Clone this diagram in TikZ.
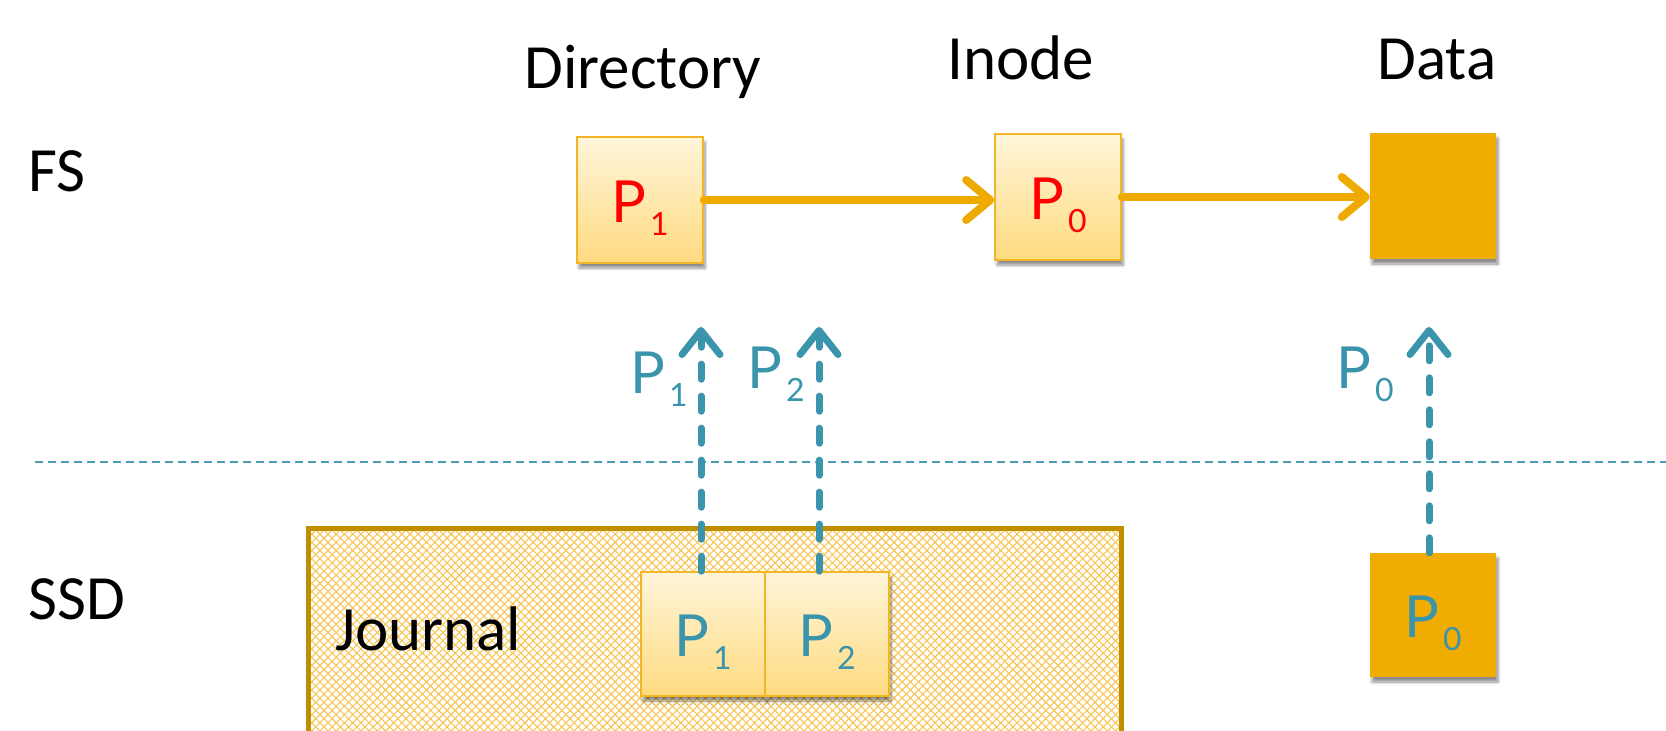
\documentclass[tikz,border=0pt]{standalone}
\usepackage{fontspec}
\setmainfont{Carlito}
\newfontfamily\pfont{Lato}
\usetikzlibrary{arrows.meta,shadows.blur,patterns.meta}

\definecolor{gold}{HTML}{F0AC00}
\definecolor{goldline}{HTML}{EFAA00}
\definecolor{boxedge}{HTML}{F2B526}
\definecolor{boxtop}{HTML}{FFF5DA}
\definecolor{boxbot}{HTML}{FFDB80}
\definecolor{framecol}{HTML}{BF8F00}
\definecolor{hatchcol}{HTML}{F7C554}
\definecolor{tealc}{HTML}{3A94AB}
\definecolor{teallight}{HTML}{4A9DB5}
\definecolor{pred}{HTML}{FF0000}

% P with a lowered index
\newcommand\pg[1]{P\kern4pt\raisebox{-13pt}{\fontsize{32}{32}\selectfont #1}}

\begin{document}
\begin{tikzpicture}[x=1pt,y=-1pt,
  lbl/.style={inner sep=0pt,anchor=base west,font=\fontsize{63}{70}\selectfont},
  head/.style={inner sep=0pt,anchor=base,font=\fontsize{63}{70}\selectfont},
  ptext/.style={inner sep=0pt,font=\pfont\fontsize{58}{60}\selectfont},
  boxshadow/.style={blur shadow={shadow xshift=2pt,shadow yshift=-5pt,
      shadow blur radius=3pt,shadow blur steps=6,shadow opacity=45}},
  pagebox/.style={draw=boxedge,line width=1.6pt,top color=boxtop,bottom color=boxbot,
      minimum width=126pt,minimum height=126pt,inner sep=0pt,boxshadow},
  solidbox/.style={fill=gold,minimum width=126pt,minimum height=126pt,inner sep=0pt,boxshadow},
  link/.style={draw=goldline,line width=8pt,line cap=round,
      -{Straight Barb[length=24pt,width=40pt,round]}},
  fetch/.style={draw=tealc,line width=7pt,line cap=round,dash pattern=on 15pt off 17pt,
      -{Straight Barb[length=24pt,width=38pt,round]}},
]
\useasboundingbox (0,0) rectangle (1666,731);
\clip (0,0) rectangle (1666,731);

% layer labels
\node[lbl] (fs) at (28,191) {FS};
\node[lbl] (ssd) at (28,619) {SSD};

% column headings
\node[head] (hdir) at (643,88) {Directory};
\node[head] (hino) at (1021,79) {Inode};
\node[head] (hdat) at (1437,79) {Data};

% boundary between file system and device
\coordinate (sepL) at (35,462);
\coordinate (sepR) at (1666,462);
\draw[teallight,line width=2.8pt,dash pattern=on 8pt off 5pt] (sepL) -- (sepR);

% journal area, cross-hatched
\path[pattern={Lines[angle=45,distance=5.8pt,line width=1.1pt]},pattern color=hatchcol]
  (308,528) rectangle (1121,770);
\path[pattern={Lines[angle=-45,distance=5.8pt,line width=1.1pt]},pattern color=hatchcol]
  (308,528) rectangle (1121,770);
\node[draw=framecol,line width=5pt,inner sep=0pt,minimum width=813pt,minimum height=242pt]
  (journal) at (714.5,649) {};
\node[lbl] (jlabel) at (335,650) {Journal};

% file system blocks
\node[pagebox] (dir) at (640,200) {};
\node[ptext,text=pred] (dirp) at ([yshift=-8pt]dir.center) {\pg{1}};
\node[pagebox] (ino) at (1058,197) {};
\node[ptext,text=pred] (inop) at ([yshift=-8pt]ino.center) {\pg{0}};
\node[solidbox] (dat) at (1433,196) {};

% journal pages and device block
\node[pagebox,minimum width=124pt,minimum height=124pt] (jp1) at (703,634) {};
\node[ptext,text=tealc] (jp1t) at ([yshift=-8pt]jp1.center) {\pg{1}};
\node[pagebox,minimum width=124pt,minimum height=124pt] (jp2) at (827,634) {};
\node[ptext,text=tealc] (jp2t) at ([yshift=-8pt]jp2.center) {\pg{2}};
\node[solidbox,minimum height=124pt] (sp0) at (1433,615) {};
\node[ptext,text=tealc] (sp0t) at ([yshift=-8pt]sp0.center) {\pg{0}};

% pointers between blocks
\draw[link] (dir.east) -- (dir.east -| ino.west);
\draw[link] (ino.east) -- (ino.east -| dat.west);

% reads from the device
\coordinate (up1) at (701,327);
\coordinate (up2) at (819,327);
\coordinate (up3) at (1429,327);
\draw[fetch] (jp1.north -| up1) -- (up1);
\draw[fetch] (jp2.north -| up2) -- (up2);
\draw[fetch] (sp0.north -| up3) -- (up3);

\node[ptext,text=tealc,anchor=base west] (l1) at (630,393) {\pg{1}};
\node[ptext,text=tealc,anchor=base west] (l2) at (747,388) {\pg{2}};
\node[ptext,text=tealc,anchor=base west] (l3) at (1336,388) {\pg{0}};
\end{tikzpicture}
\end{document}
